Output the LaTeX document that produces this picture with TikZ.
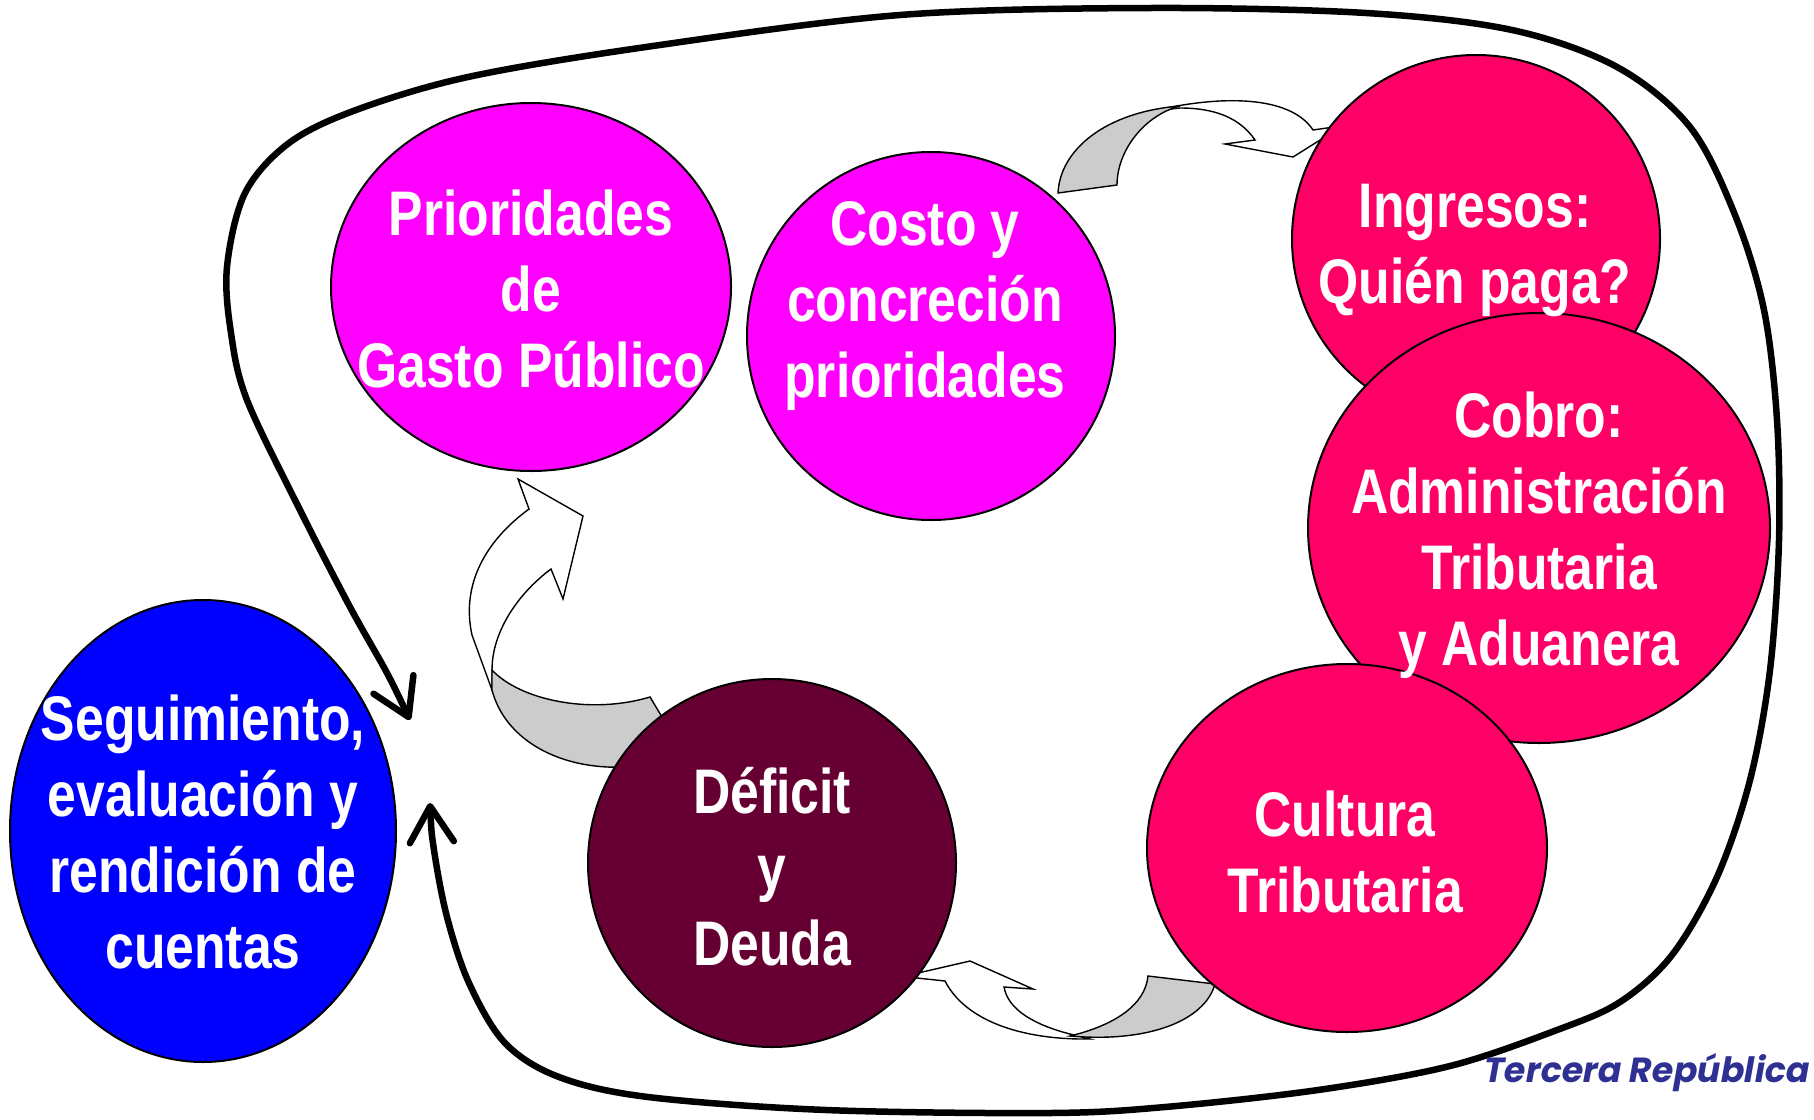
\documentclass[tikz,border=0pt]{standalone}
\usepackage{fontspec}
\usepackage{graphicx}
\usetikzlibrary{arrows.meta,shapes.geometric}
\newfontfamily\narrowbold{Liberation Sans Bold}[FakeStretch=0.82]
\newfontfamily\trfont{Poppins}[FakeSlant=0.18]
\definecolor{mag}{RGB}{255,0,255}
\definecolor{rosa}{RGB}{255,0,102}
\definecolor{vino}{RGB}{102,0,51}
\definecolor{azul}{RGB}{0,0,255}
\definecolor{grisfill}{RGB}{204,204,204}
\definecolor{trblue}{RGB}{46,49,146}
\newcommand\lstrut{\rule[-19pt]{0pt}{76pt}}
\begin{document}
\begin{tikzpicture}[x=1pt,y=-1pt,
  bubble/.style={ellipse, draw=black, line width=2pt, inner sep=0pt},
  btext/.style={text=white, align=center, inner sep=0pt, font=\narrowbold\fontsize{63}{76}\selectfont},
  ribbonfront/.style={fill=white, draw=black, line width=1.4pt, line join=miter},
  ribbonback/.style={fill=grisfill, draw=black, line width=1.4pt},
  bigloop/.style={line width=6.5pt, {Straight Barb[length=36pt,width=44pt,round]}-{Straight Barb[length=36pt,width=44pt,round]}}
]
\useasboundingbox (0,0) rectangle (1814,1119);

% curved ribbon arrows
\draw[ribbonfront] (1153,111) .. controls (1220,95) and (1290,95) .. (1313,130) -- (1327,128) -- (1344,125) -- (1293,157) -- (1225,144) -- (1255,140) .. controls (1240,118) and (1215,108) .. (1180,108) -- cycle;
\draw[ribbonback] (1058,193) .. controls (1060,150) and (1105,112) .. (1180,106) .. controls (1145,115) and (1117,150) .. (1117,185) -- cycle;

\draw[ribbonfront] (518,479) -- (583,516) -- (563,599) -- (551,569) .. controls (520,592) and (492,630) .. (492,670) -- (492,690) -- (472,635) .. controls (462,590) and (480,545) .. (529,509) -- cycle;
\draw[ribbonback] (492,670) .. controls (520,700) and (590,715) .. (650,697) -- (665,722) -- (625,767) .. controls (560,770) and (505,740) .. (492,690) -- cycle;

\draw[ribbonfront] (1070,1034) .. controls (1035,1025) and (1008,1010) .. (1004,987) -- (1033,989) -- (970,961) -- (905,976) -- (917,978) -- (945,981) .. controls (965,1020) and (1020,1040) .. (1090,1039) -- cycle;
\draw[ribbonback] (1148,976) -- (1215,984) .. controls (1205,1020) and (1150,1043) .. (1070,1036) .. controls (1115,1025) and (1145,1005) .. (1148,976) -- cycle;

% bubbles
\node[bubble, fill=mag, minimum width=400pt, minimum height=368pt] (prio) at (531,287) {};
\node[bubble, fill=mag, minimum width=368pt, minimum height=368pt] (costo) at (931,336) {};
\node[bubble, fill=rosa, minimum width=368pt, minimum height=368pt] (ingr) at (1476,239) {};
\node[bubble, fill=rosa, minimum width=462pt, minimum height=430pt] (cobro) at (1539,528) {};
\node[bubble, fill=rosa, minimum width=400pt, minimum height=368pt] (cult) at (1347,848) {};
\node[bubble, fill=vino, minimum width=368pt, minimum height=368pt] (defi) at (772,863) {};
\node[bubble, fill=azul, minimum width=386pt, minimum height=462pt] (segu) at (203,831) {};

% big loop
\coordinate (lpS) at (430,803);
\coordinate (lpE) at (410,720);
\draw[bigloop] plot[smooth, tension=0.55] coordinates {(lpS) (434,850) (447,917) (469,983) (505,1043) (559,1077) (648,1097) (826,1110) (1050,1113) (1165,1107) (1318,1090) (1450,1066) (1557,1030) (1620,1002) (1672,955) (1717,877) (1750,780) (1770,670) (1779,540) (1777,420) (1764,310) (1735,215) (1690,127) (1617,67) (1512,30) (1366,13) (1151,8) (900,15) (646,47) (468,77) (356,110) (289,143) (245,193) (227,267) (231,333) (247,400) (300,510) (350,607) (387,673) (lpE)};

% texts
\node[btext] (prioT) at (531,292) {\lstrut Prioridades\\\lstrut de\\\lstrut Gasto Público};
\node[btext] (costoT) at (925,302) {\lstrut Costo y\\\lstrut concreción\\\lstrut prioridades};
\node[btext] (ingrT) at (1475,246) {\lstrut Ingresos:\\\lstrut Quién paga?};
\node[btext] (cobroT) at (1539,532) {\lstrut Cobro:\\\lstrut Administración\\\lstrut Tributaria\\\lstrut y Aduanera};
\node[btext] (cultT) at (1345,855) {\lstrut Cultura\\\lstrut Tributaria};
\node[btext] (defiT) at (772,870) {\lstrut Déficit\\\lstrut y\\\lstrut Deuda};
\node[btext] (seguT) at (203,835) {\lstrut Seguimiento,\\\lstrut evaluación y\\\lstrut rendición de\\\lstrut cuentas};

\node[anchor=base west, inner sep=0pt, text=trblue] (tr) at (1482,1082) {\resizebox{326pt}{!}{\trfont\bfseries Tercera República}};
\end{tikzpicture}
\end{document}
